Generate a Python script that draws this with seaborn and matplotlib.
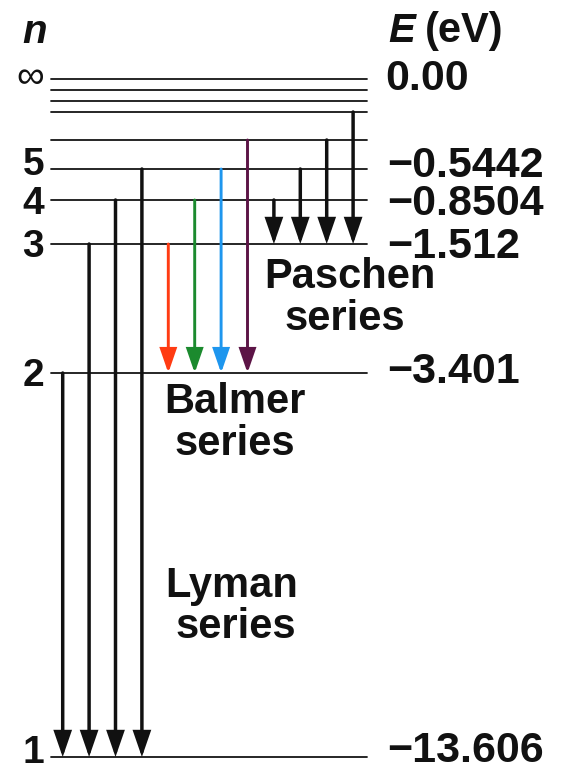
import numpy as np
import pandas as pd
import matplotlib
matplotlib.use("Agg")
import matplotlib.pyplot as plt
import seaborn as sns

# ---------------- data ----------------
level_n = [1, 2, 3, 4, 5, 6, 7, 8, 9, np.inf]
level_energy = [-13.606, -3.401, -1.512, -0.8504, -0.5442, -0.3779, -0.2777, -0.2126, -0.1680, 0.0]
n_label_levels = [1, 2, 3, 4, 5, np.inf]
n_labels = ["1", "2", "3", "4", "5", "\u221e"]
energy_labels = ["\u221213.606", "\u22123.401", "\u22121.512", "\u22120.8504", "\u22120.5442", "0.00"]
lyman_upper = [2, 3, 4, 5]      # -> n = 1
balmer_upper = [3, 4, 5, 6]     # -> n = 2
paschen_upper = [4, 5, 6, 7]    # -> n = 3
balmer_colors = ["#ff3b12", "#1b8a2e", "#1e96ee", "#5c1446"]
series_lines = [["Lyman", "series"], ["Balmer", "series"], ["Paschen", "series"]]

# ---------------- layout ----------------
W, H = 563, 774
schematic_row = [757, 373, 244, 200, 169, 140, 112, 101, 90, 79]  # drawing is not to scale
x_left, x_right = 50.5, 367
arrow_x0, arrow_dx = 62.7, 26.4
left_baseline_drop = [6, 13, 13, 14, 6, 9]
right_baseline_drop = [5, 10, 14, 15, 8, 11]
series_pos = [[(232, 597), (236, 638)], [(235, 413), (235, 455)], [(350, 288), (344.5, 330)]]

sns.set_theme(style="white")
plt.rcParams["font.family"] = ["Liberation Sans", "DejaVu Sans"]

E_of = dict(zip(level_n, level_energy))
Ek = np.array(level_energy, float)
Sk = H - np.array(schematic_row, float)


def _pw(x, xp, fp):
    x = np.asarray(x, float)
    y = np.interp(x, xp, fp)
    lo = (fp[1] - fp[0]) / (xp[1] - xp[0])
    hi = (fp[-1] - fp[-2]) / (xp[-1] - xp[-2])
    y = np.where(x < xp[0], fp[0] + (x - xp[0]) * lo, y)
    y = np.where(x > xp[-1], fp[-1] + (x - xp[-1]) * hi, y)
    return y


def fwd(E):
    return _pw(E, Ek, Sk)


def inv(s):
    return _pw(s, Sk, Ek)


fig = plt.figure(figsize=(W / 100, H / 100), dpi=100)
fig.patch.set_facecolor("white")
ax = fig.add_axes([0, 0, 1, 1])
ax.set_yscale("function", functions=(fwd, inv))
ax.set_xlim(0, W)
ax.set_ylim(float(inv(0)), float(inv(H)))
ax.axis("off")

# energy levels
df_levels = pd.DataFrame({
    "x": np.tile([x_left, x_right], len(level_energy)),
    "E": np.repeat(level_energy, 2),
    "level": np.repeat(np.arange(len(level_energy)), 2),
})
sns.lineplot(data=df_levels, x="x", y="E", units="level", estimator=None,
             color="#151515", lw=1.3, sort=False, legend=False, ax=ax)


def arrow(x, upper, lower, color, lw):
    ax.annotate("", xy=(x, E_of[lower]), xytext=(x, E_of[upper]),
                arrowprops=dict(arrowstyle="-|>,head_length=1.45,head_width=0.5",
                                mutation_scale=10, lw=lw, color=color,
                                shrinkA=0, shrinkB=0, joinstyle="miter"))


col = 0
for u in lyman_upper:
    arrow(arrow_x0 + col * arrow_dx, u, 1, "#111111", 2.5)
    col += 1
for u, c in zip(balmer_upper, balmer_colors):
    arrow(arrow_x0 + col * arrow_dx, u, 2, c, 2.1)
    col += 1
for u in paschen_upper:
    arrow(arrow_x0 + col * arrow_dx, u, 3, "#111111", 2.5)
    col += 1

# level labels
for n, lab, drop in zip(n_label_levels, n_labels, left_baseline_drop):
    ax.annotate(lab, xy=(44, E_of[n]), xytext=(0, -drop), textcoords="offset pixels",
                ha="right", va="baseline", fontsize=28,
                fontweight="normal" if lab == "\u221e" else "bold", color="#111111")
for n, lab, drop in zip(n_label_levels, energy_labels, right_baseline_drop):
    ax.annotate(lab, xy=(385 if lab == "0.00" else 387, E_of[n]), xytext=(0, -drop),
                textcoords="offset pixels", ha="left", va="baseline",
                fontsize=31, fontweight="bold", color="#111111")


def ftext(x, y, s, **kw):
    fig.text(x / W, 1 - y / H, s, **kw)


# headers
ftext(35, 43, "n", ha="center", va="baseline", fontsize=29, fontweight="bold",
      fontstyle="italic", color="#111111")
ftext(388, 42, "E", ha="left", va="baseline", fontsize=29, fontweight="bold",
      fontstyle="italic", color="#111111")
ftext(425, 42, "(eV)", ha="left", va="baseline", fontsize=30, fontweight="bold",
      color="#111111")

# series names
for lines, pos in zip(series_lines, series_pos):
    for s, (x, y) in zip(lines, pos):
        ftext(x, y, s, ha="center", va="baseline", fontsize=30, fontweight="bold",
              color="#111111")

fig.savefig("out.png", dpi=100, facecolor="white")
